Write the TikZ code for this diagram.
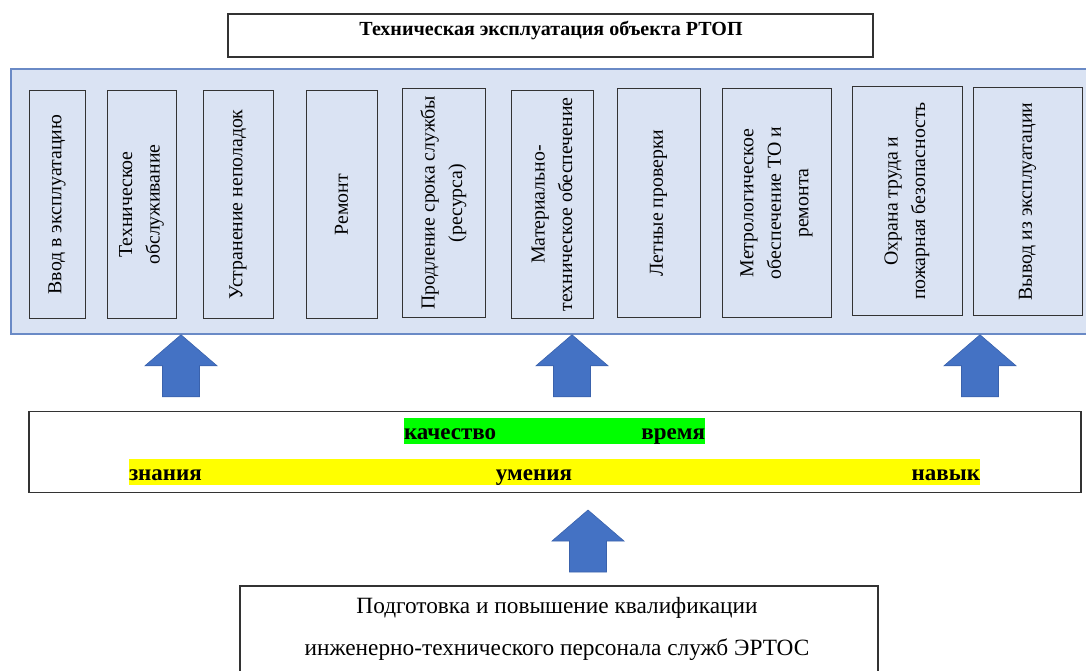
\documentclass[tikz,border=0pt]{standalone}
\usepackage{fontspec}
\setmainfont{Liberation Serif}
\usetikzlibrary{positioning}

\definecolor{panelfill}{HTML}{DAE3F3}
\definecolor{paneldraw}{HTML}{6A8AC6}
\definecolor{arrowblue}{HTML}{4472C4}
\definecolor{arrowedge}{HTML}{3A62AC}
\definecolor{hlgreen}{HTML}{00FF00}
\definecolor{hlyellow}{HTML}{FFFF00}

\tikzset{
  framebox/.style={draw=black!80, line width=1.2pt, inner sep=0pt},
  taskbox/.style={draw=black!80, line width=1pt, fill=panelfill, rotate=90,
    align=center, inner sep=0pt, font=\fontsize{19.8}{27.5}\selectfont},
  hltext/.style={inner sep=0pt, text height=19pt, text depth=2pt,
    font=\bfseries\fontsize{23}{24}\selectfont},
  uparrow/.pic={
    \filldraw[fill=arrowblue, draw=arrowedge, line width=0.6pt]
      (0,0) -- (36,31) -- (18.5,31) -- (18.5,62) -- (-18.5,62)
      -- (-18.5,31) -- (-36,31) -- cycle;
  },
}

\begin{document}
\begin{tikzpicture}[x=1pt, y=-1pt]
    \useasboundingbox (0,0) rectangle (1086,671);

    % title
    \node[framebox, minimum width=645pt, minimum height=43pt] (title) at (550.5,35.5) {};
    \node[inner sep=0pt, font=\bfseries\fontsize{20}{22}\selectfont] (titletext) at (551,31)
        {Техническая эксплуатация объекта РТОП};

    % panel with the tasks
    \node[draw=paneldraw, line width=1.5pt, fill=panelfill, minimum width=1079pt,
        minimum height=265pt, inner sep=0pt] (panel) at (550.5,201.5) {};
    \foreach \xa/\xb/\ya/\yb/\nm/\txt in {
        29/85/91/318/input/{Ввод в эксплуатацию},
        107/176/91/318/service/{Техническое\\обслуживание},
        203/273/91/318/repair/{Устранение неполадок},
        306/377/91/318/overhaul/{Ремонт},
        402/485/89/317/extend/{Продление срока службы\\(ресурса)},
        511/593/91/318/supply/{Материально-\\техническое обеспечение},
        617/700/89/317/flight/{Летные проверки},
        722/831/89/317/metro/{Метрологическое\\обеспечение ТО и\\ремонта},
        852/962/87/315/safety/{Охрана труда и\\пожарная безопасность},
        973/1082/88/315/output/{Вывод из эксплуатации}}
        \node[taskbox, minimum width=(\yb-\ya)*1pt, minimum height=(\xb-\xa)*1pt]
            (\nm) at ({(\xa+\xb)/2},{(\ya+\yb)/2}) {\txt};

    % skills
    \node[framebox, minimum width=1052pt, minimum height=81pt] (skills) at (555,452) {};
    \node[fill=hlgreen, minimum width=301pt, minimum height=26pt, inner sep=0pt] (quality) at (554.5,431) {};
    \node[hltext, anchor=west] (kach) at (quality.west) {качество};
    \node[hltext, anchor=east] (vrem) at (quality.east) {время};
    \node[fill=hlyellow, minimum width=851pt, minimum height=26pt, inner sep=0pt] (ability) at (554.5,472) {};
    \node[hltext, anchor=west] (znan) at (ability.west) {знания};
    \node[hltext] (umen) at (534,472) {умения};
    \node[hltext, anchor=east] (navyk) at (ability.east) {навык};

    % training
    \node[framebox, minimum width=638pt, minimum height=104pt] (training) at (559,638) {};
    \node[align=center, inner sep=0pt, font=\fontsize{23.3}{42}\selectfont] (trainingtext) at (557,629)
        {Подготовка и повышение квалификации\\инженерно-технического персонала служб ЭРТОС};

    % block arrows
    \coordinate (a1) at (181,0);
    \coordinate (a2) at (572,0);
    \coordinate (a3) at (980,0);
    \coordinate (a4) at (588,510);
    \pic at (a1 |- panel.south) {uparrow};
    \pic at (a2 |- panel.south) {uparrow};
    \pic at (a3 |- panel.south) {uparrow};
    \pic at (a4) {uparrow};
\end{tikzpicture}
\end{document}
